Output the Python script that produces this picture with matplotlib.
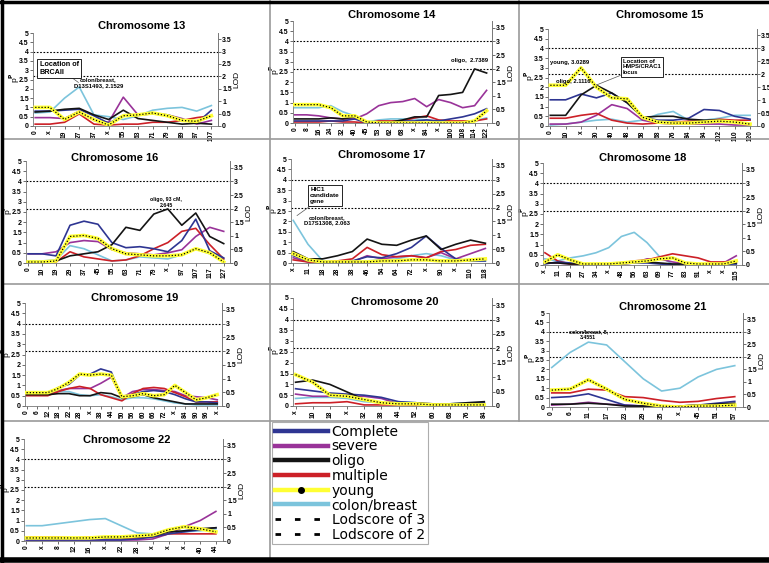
import numpy as np
import matplotlib.pyplot as plt
from matplotlib.lines import Line2D

plt.rcParams['font.family'] = ['Liberation Sans', 'DejaVu Sans']
plt.rcParams['font.weight'] = 'bold'

# ---- data ----
series_names = ['Complete', 'severe', 'oligo', 'multiple', 'young', 'colon/breast']

c13_labels = ['0', 'x', '19', '27', '37', 'x', '55', '63', '71', '79', '89', '97', '107']
c13_complete = [0.8, 0.8, 0.85, 0.9, 0.55, 0.15, 0.55, 0.6, 0.65, 0.6, 0.35, 0.15, 0.85]
c13_severe = [0.45, 0.45, 0.4, 0.8, 0.3, 0.2, 1.55, 0.6, 0.65, 0.6, 0.4, 0.1, 0.3]
c13_oligo = [0.75, 0.8, 0.9, 0.95, 0.6, 0.35, 0.85, 0.4, 0.3, 0.2, 0.1, 0.15, 0.1]
c13_multiple = [0.1, 0.1, 0.2, 0.65, 0.1, 0.05, 0.1, 0.1, 0.2, 0.2, 0.3, 0.45, 0.55]
c13_young = [1.0, 1.0, 0.35, 0.75, 0.35, 0.05, 0.55, 0.6, 0.7, 0.55, 0.3, 0.25, 0.55]
c13_colon = [0.7, 0.75, 1.5, 2.1, 0.6, 0.5, 0.35, 0.55, 0.85, 0.95, 1.0, 0.8, 1.1]

c14_labels = ['0', '8', '16', '24', '32', '40', '45', '53', '62', '68', 'x', '84', 'x',
              '100', '108', '114', '122']
c14_complete = [0.1, 0.1, 0.1, 0.1, 0.1, 0.2, 0.0, 0.0, 0.0, 0.1, 0.1, 0.15, 0.1, 0.2, 0.3, 0.45, 0.7]
c14_severe = [0.4, 0.4, 0.35, 0.25, 0.2, 0.2, 0.45, 0.85, 1.0, 1.05, 1.2, 0.8, 1.15, 1.0, 0.75, 0.85, 1.6]
c14_oligo = [0.2, 0.2, 0.2, 0.25, 0.2, 0.3, 0.05, 0.05, 0.05, 0.15, 0.3, 0.3, 1.35, 1.4, 1.5, 2.65, 2.45]
c14_multiple = [0.05, 0.05, 0.05, 0.1, 0.05, 0.05, 0.0, 0.1, 0.1, 0.1, 0.25, 0.35, 0.15, 0.1, 0.1, 0.1, 0.2]
c14_young = [0.9, 0.9, 0.9, 0.75, 0.35, 0.35, 0.05, 0.0, 0.0, 0.0, 0.0, 0.0, 0.0, 0.0, 0.0, 0.1, 0.6]
c14_colon = [0.75, 0.75, 0.75, 0.85, 0.55, 0.35, 0.05, 0.15, 0.2, 0.2, 0.2, 0.15, 0.05, 0.05, 0.05, 0.1, 0.25]

c15_labels = ['0', '10', 'x', '30', '40', '48', '58', '68', '76', '84', '94', '102', '110', '120']
c15_complete = [1.35, 1.35, 1.65, 1.45, 1.7, 1.2, 0.45, 0.3, 0.3, 0.4, 0.85, 0.8, 0.5, 0.35]
c15_severe = [0.1, 0.1, 0.2, 0.55, 1.1, 0.9, 0.3, 0.15, 0.1, 0.1, 0.1, 0.1, 0.05, 0.05]
c15_oligo = [0.55, 0.55, 1.6, 2.1, 1.7, 1.2, 0.45, 0.5, 0.5, 0.35, 0.3, 0.3, 0.2, 0.1]
c15_multiple = [0.4, 0.4, 0.55, 0.65, 0.3, 0.15, 0.1, 0.15, 0.2, 0.25, 0.25, 0.35, 0.3, 0.3]
c15_young = [2.1, 2.1, 3.0, 2.0, 1.45, 1.4, 0.45, 0.2, 0.15, 0.15, 0.2, 0.25, 0.2, 0.1]
c15_colon = [0.05, 0.1, 0.2, 0.3, 0.35, 0.2, 0.3, 0.6, 0.75, 0.3, 0.3, 0.4, 0.55, 0.55]

c16_labels = ['0', '10', '19', '29', '37', '45', '55', '63', '71', '79', 'x', '97', '107', '117', '127']
c16_complete = [0.45, 0.45, 0.35, 1.85, 2.05, 1.9, 1.0, 0.75, 0.8, 0.7, 0.55, 1.1, 2.15, 0.6, 0.25]
c16_severe = [0.45, 0.45, 0.55, 1.0, 1.1, 1.05, 0.65, 0.5, 0.45, 0.4, 0.5, 0.65, 1.3, 1.75, 1.55]
c16_oligo = [0.05, 0.05, 0.1, 0.35, 0.45, 0.55, 0.9, 1.75, 1.6, 2.4, 2.65, 1.85, 2.45, 1.3, 0.95]
c16_multiple = [0.05, 0.05, 0.05, 0.55, 0.3, 0.2, 0.1, 0.15, 0.35, 0.7, 1.0, 1.55, 1.7, 0.9, 0.2]
c16_young = [0.05, 0.05, 0.1, 1.3, 1.35, 1.2, 0.7, 0.45, 0.4, 0.35, 0.35, 0.4, 0.7, 0.5, 0.05]
c16_colon = [0.1, 0.1, 0.15, 0.85, 0.7, 0.4, 0.1, 0.15, 0.3, 0.25, 0.2, 0.4, 0.7, 0.45, 0.2]

c17_labels = ['x', '11', '18', '28', '38', '46', '54', '64', '72', 'x', '90', 'x', '110', '118']
c17_complete = [0.35, 0.1, 0.05, 0.05, 0.1, 0.3, 0.25, 0.45, 0.75, 1.3, 0.7, 0.2, 0.1, 0.1]
c17_severe = [0.25, 0.05, 0.05, 0.05, 0.05, 0.35, 0.2, 0.3, 0.35, 0.25, 0.5, 0.2, 0.45, 0.7]
c17_oligo = [0.55, 0.2, 0.2, 0.35, 0.55, 1.15, 0.9, 0.85, 1.1, 1.3, 0.65, 0.9, 1.1, 0.95]
c17_multiple = [0.15, 0.05, 0.05, 0.1, 0.2, 0.75, 0.4, 0.3, 0.35, 0.25, 0.55, 0.65, 0.85, 0.9]
c17_young = [0.45, 0.15, 0.05, 0.05, 0.05, 0.05, 0.1, 0.1, 0.15, 0.15, 0.1, 0.1, 0.15, 0.2]
c17_colon = [2.05, 0.9, 0.1, 0.05, 0.05, 0.1, 0.15, 0.2, 0.35, 0.45, 0.35, 0.15, 0.1, 0.1]

c18_labels = ['x', '11', '19', '27', '34', 'x', '48', '56', '63', '69', '77', '83', '91', 'x', 'x', '115']
c18_complete = [0.05, 0.15, 0.1, 0.05, 0.05, 0.05, 0.05, 0.1, 0.1, 0.05, 0.0, 0.0, 0.0, 0.0, 0.05, 0.05]
c18_severe = [0.1, 0.1, 0.05, 0.05, 0.05, 0.05, 0.05, 0.1, 0.3, 0.3, 0.15, 0.05, 0.05, 0.05, 0.1, 0.45]
c18_oligo = [0.1, 0.1, 0.05, 0.05, 0.05, 0.05, 0.1, 0.15, 0.15, 0.1, 0.05, 0.05, 0.05, 0.05, 0.05, 0.1]
c18_multiple = [0.6, 0.2, 0.05, 0.05, 0.05, 0.05, 0.1, 0.2, 0.25, 0.4, 0.55, 0.45, 0.35, 0.15, 0.15, 0.15]
c18_young = [0.15, 0.5, 0.25, 0.05, 0.05, 0.05, 0.1, 0.15, 0.2, 0.3, 0.35, 0.1, 0.05, 0.05, 0.05, 0.2]
c18_colon = [0.3, 0.2, 0.35, 0.45, 0.6, 0.85, 1.4, 1.6, 1.1, 0.4, 0.05, 0.05, 0.05, 0.05, 0.05, 0.05]

c19_labels = ['0', '6', '12', '18', '22', '28', 'x', '38', '44', '50', '56', '60', '66', '72',
              'x', '84', '90', '96', 'x']
c19_complete = [0.6, 0.6, 0.6, 0.9, 1.05, 1.5, 1.55, 1.8, 1.65, 0.4, 0.55, 0.7, 0.75, 0.7, 0.55, 0.35, 0.2, 0.2, 0.15]
c19_severe = [0.55, 0.55, 0.55, 0.75, 0.85, 0.85, 0.85, 1.1, 1.4, 0.4, 0.7, 0.8, 0.8, 0.75, 0.7, 0.5, 0.45, 0.4, 0.3]
c19_oligo = [0.55, 0.55, 0.55, 0.6, 0.6, 0.5, 0.5, 0.65, 0.6, 0.4, 0.45, 0.55, 0.4, 0.3, 0.2, 0.1, 0.1, 0.1, 0.1]
c19_multiple = [0.5, 0.5, 0.5, 0.7, 0.85, 0.95, 0.85, 0.55, 0.4, 0.25, 0.6, 0.85, 0.9, 0.85, 0.65, 0.45, 0.2, 0.2, 0.2]
c19_young = [0.65, 0.65, 0.65, 0.85, 1.15, 1.55, 1.5, 1.55, 1.5, 0.45, 0.5, 0.6, 0.5, 0.55, 1.0, 0.65, 0.3, 0.4, 0.55]
c19_colon = [0.55, 0.55, 0.55, 0.7, 0.7, 0.55, 0.5, 0.55, 0.45, 0.3, 0.4, 0.4, 0.35, 0.25, 0.15, 0.1, 0.05, 0.05, 0.05]

c20_labels = ['x', '10', '18', 'x', '32', '38', '44', '52', '60', '68', '76', '84']
c20_complete = [0.8, 0.7, 0.6, 0.55, 0.5, 0.4, 0.2, 0.15, 0.05, 0.05, 0.1, 0.15]
c20_severe = [0.55, 0.45, 0.45, 0.45, 0.45, 0.35, 0.1, 0.05, 0.05, 0.05, 0.05, 0.05]
c20_oligo = [1.1, 1.2, 1.0, 0.65, 0.3, 0.15, 0.1, 0.15, 0.1, 0.1, 0.15, 0.2]
c20_multiple = [0.1, 0.15, 0.15, 0.2, 0.05, 0.05, 0.05, 0.05, 0.05, 0.05, 0.05, 0.05]
c20_young = [1.45, 1.1, 0.5, 0.45, 0.3, 0.15, 0.1, 0.1, 0.05, 0.05, 0.05, 0.05]
c20_colon = [0.35, 0.4, 0.4, 0.35, 0.2, 0.15, 0.2, 0.15, 0.05, 0.1, 0.15, 0.15]

c21_labels = ['0', '6', '11', '17', '23', '29', '35', 'x', '45', '51', '57']
c21_complete = [0.5, 0.55, 0.7, 0.4, 0.1, 0.05, 0.05, 0.05, 0.1, 0.2, 0.3]
c21_severe = [0.1, 0.15, 0.25, 0.15, 0.1, 0.05, 0.05, 0.05, 0.05, 0.05, 0.05]
c21_oligo = [0.15, 0.15, 0.2, 0.15, 0.05, 0.05, 0.05, 0.05, 0.1, 0.15, 0.2]
c21_multiple = [0.75, 0.75, 0.95, 0.9, 0.55, 0.5, 0.35, 0.25, 0.3, 0.45, 0.55]
c21_young = [0.9, 0.95, 1.45, 0.95, 0.4, 0.2, 0.05, 0.0, 0.05, 0.05, 0.1]
c21_colon = [2.1, 2.9, 3.45, 3.3, 2.4, 1.5, 0.85, 1.0, 1.6, 2.0, 2.2]

c22_labels = ['0', 'x', '8', '12', '16', 'x', '22', '28', 'x', 'x', 'x', '40', '44']
c22_complete = [0.05, 0.05, 0.05, 0.05, 0.05, 0.05, 0.05, 0.1, 0.2, 0.35, 0.45, 0.55, 0.65]
c22_severe = [0.05, 0.05, 0.05, 0.05, 0.05, 0.05, 0.05, 0.05, 0.1, 0.35, 0.7, 1.0, 1.45]
c22_oligo = [0.15, 0.15, 0.15, 0.15, 0.15, 0.15, 0.15, 0.2, 0.25, 0.45, 0.5, 0.6, 0.65]
c22_multiple = [0.2, 0.2, 0.2, 0.15, 0.2, 0.2, 0.15, 0.15, 0.2, 0.35, 0.35, 0.35, 0.35]
c22_young = [0.15, 0.15, 0.15, 0.15, 0.15, 0.2, 0.2, 0.25, 0.3, 0.55, 0.7, 0.6, 0.45]
c22_colon = [0.75, 0.75, 0.85, 0.95, 1.05, 1.1, 0.75, 0.4, 0.35, 0.45, 0.45, 0.5, 0.6]

lod3 = 3
lod2 = 2

# ---- styling / layout ----
colors = {'Complete': '#2E3592', 'severe': '#993399', 'oligo': '#141414',
          'multiple': '#CC2027', 'young': '#FFFF33', 'colon/breast': '#7CC4DC'}
draw_order = ['colon/breast', 'severe', 'multiple', 'Complete', 'oligo', 'young']

W, H = 769, 563
fig = plt.figure(figsize=(W / 100, H / 100), dpi=100)


def px_rect(l, r, t, b):
    return [l / W, 1 - b / H, (r - l) / W, (b - t) / H]


panels = [
    ('13', c13_labels, [c13_complete, c13_severe, c13_oligo, c13_multiple, c13_young, c13_colon],
     (33, 218, 33, 126), (142, 26)),
    ('14', c14_labels, [c14_complete, c14_severe, c14_oligo, c14_multiple, c14_young, c14_colon],
     (293, 492, 21, 123), (392, 15)),
    ('15', c15_labels, [c15_complete, c15_severe, c15_oligo, c15_multiple, c15_young, c15_colon],
     (548, 757, 29, 126), (660, 15)),
    ('16', c16_labels, [c16_complete, c16_severe, c16_oligo, c16_multiple, c16_young, c16_colon],
     (26, 230, 161, 263), (115, 158)),
    ('17', c17_labels, [c17_complete, c17_severe, c17_oligo, c17_multiple, c17_young, c17_colon],
     (291, 492, 159, 263), (382, 155)),
    ('18', c18_labels, [c18_complete, c18_severe, c18_oligo, c18_multiple, c18_young, c18_colon],
     (543, 742, 163, 265), (643, 158)),
    ('19', c19_labels, [c19_complete, c19_severe, c19_oligo, c19_multiple, c19_young, c19_colon],
     (25, 222, 303, 406), (135, 298)),
    ('20', c20_labels, [c20_complete, c20_severe, c20_oligo, c20_multiple, c20_young, c20_colon],
     (293, 492, 298, 406), (395, 302)),
    ('21', c21_labels, [c21_complete, c21_severe, c21_oligo, c21_multiple, c21_young, c21_colon],
     (549, 743, 313, 407), (663, 307)),
    ('22', c22_labels, [c22_complete, c22_severe, c22_oligo, c22_multiple, c22_young, c22_colon],
     (24, 223, 439, 541), (127, 440)),
]

axes = {}
for chrom, labels, vals, rect, tpos in panels:
    ax = fig.add_axes(px_rect(*rect))
    x = np.arange(len(labels))
    data = dict(zip(series_names, vals))
    for name in draw_order:
        if name == 'young':
            ax.plot(x, data[name], color=colors[name], lw=2.6, zorder=3)
            ax.plot(x, data[name], color='black', lw=0.9, ls=(0, (1, 1.5)), zorder=4)
        else:
            ax.plot(x, data[name], color=colors[name], lw=1.2, zorder=2)
    # LOD threshold lines (left axis = LOD / 0.75)
    for lod in (lod3, lod2):
        ax.axhline(lod / 0.75, color='black', lw=0.8, ls=(0, (1.5, 1.5)), zorder=1)
    ax.set_xlim(-0.15, len(labels) - 0.55)
    ax.set_ylim(0, 5)
    ax.set_yticks(np.arange(0, 5.01, 0.5))
    ax.set_yticklabels(['%g' % v for v in np.arange(0, 5.01, 0.5)], fontsize=5)
    ax.set_xticks(x)
    ax.set_xticklabels(labels, rotation=90, fontsize=4.8)
    ax.tick_params(length=2, width=0.5, pad=1, colors='#333333', labelcolor='black')
    ax.spines['top'].set_visible(False)
    for s in ['left', 'bottom', 'right']:
        ax.spines[s].set_color('#777777')
        ax.spines[s].set_linewidth(0.6)
    ax.set_ylabel(r'p$^{\mathbf{P}}$', fontsize=6, labelpad=0)
    ax.yaxis.set_label_coords(-11 / (rect[1] - rect[0]), 0.52)

    ax2 = ax.twinx()
    ax2.set_ylim(0, 3.75)
    ax2.set_yticks(np.arange(0, 3.51, 0.5))
    ax2.set_yticklabels(['%g' % v for v in np.arange(0, 3.51, 0.5)], fontsize=5)
    ax2.tick_params(length=2, width=0.5, pad=1, colors='#333333', labelcolor='black')
    for s in ['top', 'left', 'bottom']:
        ax2.spines[s].set_visible(False)
    ax2.spines['right'].set_color('#777777')
    ax2.spines['right'].set_linewidth(0.6)
    ax2.set_ylabel('LOD', fontsize=6, labelpad=1)

    fig.text(tpos[0] / W, 1 - tpos[1] / H, 'Chromosome ' + chrom, ha='center', va='center',
             fontsize=8, fontweight='bold')
    axes[chrom] = ax

# ---- annotations ----
box = dict(boxstyle='square,pad=0.3', fc='white', ec='black', lw=0.6)
ax = axes['13']
ax.annotate('Location of\nBRCAII', xy=(3.1, 2.25), xytext=(0.3, 3.1), fontsize=5.2,
            va='center', ha='left', bbox=box,
            arrowprops=dict(arrowstyle='-', lw=0.5, color='#555555', shrinkA=0))
ax.text(4.3, 2.05, 'colon/breast,\nD13S1493, 2.1529', fontsize=4.2, ha='center', va='bottom')

axes['14'].text(14.6, 3.05, 'oligo,  2.7389', fontsize=4.2, ha='center', va='center')

ax = axes['15']
ax.text(1.25, 3.28, 'young, 3.0289', fontsize=4.2, ha='center', va='center')
ax.text(1.5, 2.3, 'oligo, 2.1116', fontsize=4.2, ha='center', va='center')
ax.annotate('Location of\nHMPS/CRAC1\nlocus', xy=(2.8, 2.05), xytext=(4.7, 3.05), fontsize=4.2,
            va='center', ha='left', bbox=box,
            arrowprops=dict(arrowstyle='-', lw=0.5, color='#555555', shrinkA=0))

axes['16'].text(9.9, 2.95, 'oligo, 93 cM,\n2.645', fontsize=3.8, ha='center', va='center')

ax = axes['17']
ax.annotate('HIC1\ncandidate\ngene', xy=(0.1, 2.2), xytext=(1.15, 3.25), fontsize=4.6,
            va='center', ha='left', bbox=box,
            arrowprops=dict(arrowstyle='-', lw=0.5, color='#555555', shrinkA=0))
ax.text(2.3, 2.06, 'colon/breast,\nD17S1308, 2.063', fontsize=4.2, ha='center', va='center')

axes['21'].text(2.0, 3.85, 'colon/breast, 8,\n3.4551', fontsize=3.8, ha='center', va='center')

# ---- legend ----
handles = [Line2D([], [], color=colors[n], lw=3.2) for n in ['Complete', 'severe', 'oligo', 'multiple']]
handles.append(Line2D([], [], color=colors['young'], lw=3.2, marker='o', ms=4,
                      mfc='black', mec='black'))
handles.append(Line2D([], [], color=colors['colon/breast'], lw=3.2))
handles.append(Line2D([], [], color='black', lw=2, ls=(0, (2, 5))))
handles.append(Line2D([], [], color='black', lw=2, ls=(0, (2, 5))))
leg_labels = ['Complete', 'severe', 'oligo', 'multiple', 'young', 'colon/breast',
              'Lodscore of 3', 'Lodscore of 2']
leg = fig.legend(handles, leg_labels, loc='upper left', bbox_to_anchor=(272 / W, 1 - 422 / H),
                 prop={'family': 'DejaVu Sans', 'size': 10, 'weight': 'normal'},
                 frameon=True, fancybox=False, edgecolor='#999999',
                 handlelength=3.8, handletextpad=0.3, labelspacing=0.05, borderpad=0.2,
                 borderaxespad=0)
leg.get_frame().set_linewidth(0.8)

# ---- cell separators and outer border ----
grey = '#9a9a9a'
for y in (139, 284, 421):
    fig.add_artist(Line2D([3 / W, 1], [1 - y / H] * 2, color=grey, lw=1.2))
fig.add_artist(Line2D([270 / W] * 2, [1, 1 - 558 / H], color=grey, lw=1.2))
fig.add_artist(Line2D([519 / W] * 2, [1, 1 - 421 / H], color=grey, lw=1.2))
fig.add_artist(Line2D([0, 1], [1 - 1.5 / H] * 2, color='black', lw=2.5))
fig.add_artist(Line2D([0, 1], [1 - 560 / H] * 2, color='black', lw=4))
fig.add_artist(Line2D([1.5 / W] * 2, [0, 1], color='black', lw=2.5))

fig.savefig('out.png', dpi=100)
